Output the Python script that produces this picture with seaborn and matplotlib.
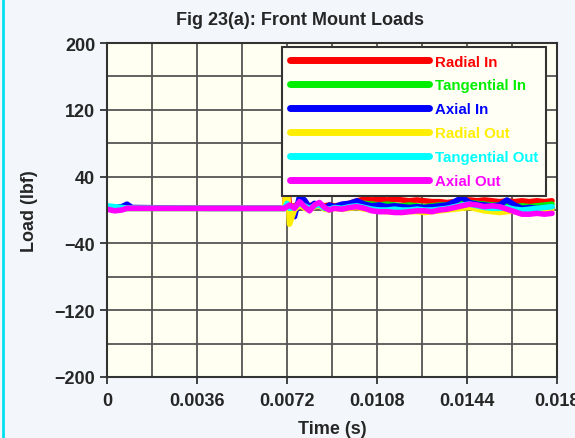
import pandas as pd
import seaborn as sns
import matplotlib.pyplot as plt
from matplotlib.lines import Line2D

# Time samples (s)
times = [0, 0.0003, 0.0006, 0.0008, 0.0010, 0.0040, 0.0071, 0.0072, 0.0073,
         0.0075, 0.0077, 0.0079, 0.0081, 0.0083, 0.0085, 0.0087, 0.0089, 0.0091,
         0.0094, 0.0097, 0.0100, 0.0103, 0.0106, 0.0109, 0.0112, 0.0115, 0.0118,
         0.0121, 0.0124, 0.0127, 0.0130, 0.0133, 0.0136, 0.0139, 0.0142, 0.0145,
         0.0148, 0.0151, 0.0154, 0.0157, 0.0160, 0.0163, 0.0166, 0.0169, 0.0172,
         0.0175, 0.0178]

radial_in = [2, 2, 2, 2, 2, 2, 2, 38, 4, 5, 8, 6, 5, 7, 6, 5, 6, 5, 6, 8, 11, 13,
             12, 13, 12, 13, 12, 11, 12, 11, 10, 10, 9, 10, 11, 12, 11, 12, 11, 10,
             11, 10, 11, 10, 11, 10, 11]
tangential_in = [2, 2, 2, 2, 2, 2, 2, 12, 3, 4, 7, 5, 3, 5, 6, 4, 3, 4, 5, 6, 7, 8,
                 7, 6, 7, 6, 5, 6, 5, 4, 5, 6, 6, 7, 8, 9, 8, 7, 6, 6, 5, 4, 5, 4,
                 5, 6, 7]
axial_in = [2, 3, 4, 7, 3, 2, 2, 6, -6, -8, 16, 12, 3, 8, 5, 2, 6, 4, 7, 8, 11, 7,
            5, 6, 4, 5, 4, 3, 4, 3, 4, 5, 6, 10, 15, 9, 7, 6, 5, 6, 12, 6, 2, 3,
            2, 3, 2]
radial_out = [2, 2, 2, 2, 2, 2, 2, 36, -17, 0, 6, 2, 0, 4, 5, 1, 0, 2, 1, 2, 3, 1,
              0, -1, -2, -2, -3, -2, -2, -3, -2, -1, 0, 1, 2, 3, 1, -1, -2, -3, -2,
              -1, -1, 0, -1, 0, 1]
tangential_out = [5, 4, 3, 2, 2, 2, 2, 8, 2, 3, 8, 5, 2, 5, 6, 2, 1, 3, 2, 4, 5, 3,
                  1, 0, 0, 1, 0, 0, 1, 0, 0, 1, 2, 4, 6, 7, 5, 3, 2, 2, 3, 1, 0, 1,
                  2, 3, 4]
axial_out = [1, -1, 0, 2, 2, 2, 2, 4, 6, 2, 10, 4, -1, 6, 9, 3, 0, 2, 1, 3, 4, 2,
             -1, -2, -2, -3, -3, -2, -1, -1, -2, 0, 1, 3, 5, 7, 6, 4, 5, 4, 1, -2,
             -5, -5, -4, -5, -4]

series = ["Radial In", "Tangential In", "Axial In",
          "Radial Out", "Tangential Out", "Axial Out"]
values = [radial_in, tangential_in, axial_in, radial_out, tangential_out, axial_out]
colors = ["#ff0000", "#00ee00", "#0000ff", "#ffee00", "#00ffff", "#ff00ff"]

df = pd.concat([pd.DataFrame({"Time": times, "Load": v, "Series": s})
                for s, v in zip(series, values)], ignore_index=True)

sns.set_style("ticks")
plt.rcParams["font.family"] = ["Liberation Sans", "DejaVu Sans"]
plt.rcParams["font.weight"] = "bold"

fig = plt.figure(figsize=(5.75, 4.39), dpi=100, facecolor="#f3f7fb")
ax = fig.add_axes([107 / 575, 1 - 378 / 439, 450 / 575, 334 / 439])
ax.set_facecolor("#fffff2")

sns.lineplot(data=df, x="Time", y="Load", hue="Series", hue_order=series,
             palette=dict(zip(series, colors)), estimator=None, linewidth=4,
             legend=False, ax=ax)

ax.set_xlim(0, 0.018)
ax.set_ylim(-200, 200)
ax.set_xticks([0, 0.0036, 0.0072, 0.0108, 0.0144, 0.018])
ax.set_xticklabels(["0", "0.0036", "0.0072", "0.0108", "0.0144", "0.018"])
ax.set_xticks([0.0018, 0.0054, 0.009, 0.0126, 0.0162], minor=True)
ax.set_yticks([200, 120, 40, -40, -120, -200])
ax.set_yticks([160, 80, 0, -80, -160], minor=True)
ax.grid(True, which="both", color="#555555", linewidth=1.3)
ax.set_axisbelow(True)
ax.tick_params(which="major", length=5, width=1.2, labelsize=13, color="#222222")
ax.tick_params(axis="x", pad=6)
ax.tick_params(which="minor", length=0)
for sp in ax.spines.values():
    sp.set_color("#333333")
    sp.set_linewidth(1.5)

ax.set_title("Fig 23(a): Front Mount Loads", fontsize=13, fontweight="bold",
             x=0.43, pad=14)
ax.set_xlabel("Time (s)", fontsize=13, fontweight="bold", labelpad=8)
ax.set_ylabel("Load (lbf)", fontsize=13, fontweight="bold", labelpad=12)

leg = ax.legend(handles=ax.lines[:6], labels=series, loc="upper right",
                bbox_to_anchor=(0.975, 0.988), borderaxespad=0, fontsize=10.8,
                handlelength=9.3, handletextpad=0.4, labelspacing=0.66,
                borderpad=0.5, fancybox=False, framealpha=1,
                facecolor="#fffff6", edgecolor="#333333")
leg.get_frame().set_linewidth(1.5)
for txt, ln in zip(leg.get_texts(), leg.get_lines()):
    ln.set_linewidth(5)
    txt.set_color(ln.get_color())
    txt.set_fontweight("bold")

fig.add_artist(Line2D([0.006, 0.006], [0, 1], color="#00e0f0", lw=2,
                      transform=fig.transFigure))

fig.savefig("out.png", dpi=100, facecolor=fig.get_facecolor())
